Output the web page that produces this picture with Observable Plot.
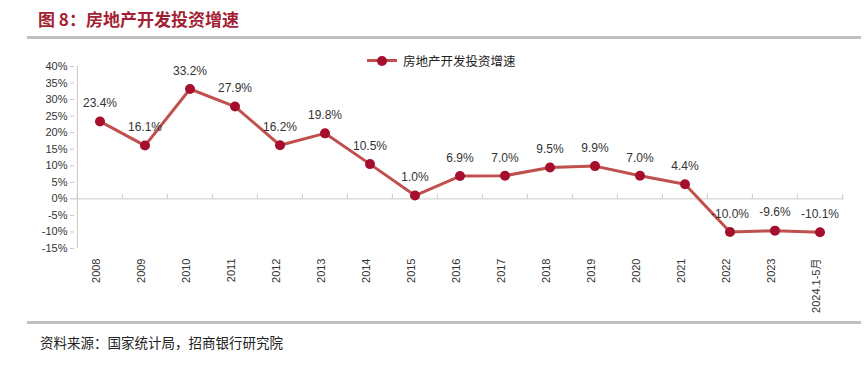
<!DOCTYPE html>
<html><head><meta charset="utf-8">
<script src="https://cdn.jsdelivr.net/npm/d3@7"></script>
<script src="https://cdn.jsdelivr.net/npm/@observablehq/plot@0.6"></script>
<style>
body{margin:0;background:#fff;}
#wrap{position:relative;width:868px;height:369px;overflow:hidden;font-family:"Liberation Sans",Arial,"Noto Sans CJK SC",sans-serif;}
#title{position:absolute;left:38px;top:6px;font-family:"Noto Sans CJK SC",sans-serif;font-weight:bold;font-size:17px;color:#A31F34;}
.hr{position:absolute;left:27px;width:834px;height:3px;background:#bfbfbf;}
#legend{position:absolute;left:367px;top:51px;font-family:"Noto Sans CJK SC",serif;font-size:12.5px;color:#222;display:flex;align-items:center;}
#legend .ln{position:relative;width:30px;height:3px;background:#C0504D;margin-right:6px;}
#legend .dt{position:absolute;left:10px;top:-3.5px;width:10px;height:10px;border-radius:5px;background:#A50F2D;}
#source{position:absolute;left:40px;top:332px;font-family:"Noto Sans CJK SC",serif;font-size:13.5px;color:#222;}
#chart{position:absolute;left:0;top:40px;}
</style></head>
<body><div id="wrap">
<div id="title">图 8：房地产开发投资增速</div>
<div class="hr" style="top:36px"></div>
<div id="chart"></div>
<div id="legend"><span class="ln"><span class="dt"></span></span><span>房地产开发投资增速</span></div>
<div class="hr" style="top:321px"></div>
<div id="source">资料来源：国家统计局，招商银行研究院</div>
</div>
<script>
const categories = ["2008","2009","2010","2011","2012","2013","2014","2015","2016","2017","2018","2019","2020","2021","2022","2023","2024.1-5月"];
const values = [23.4,16.1,33.2,27.9,16.2,19.8,10.5,1.0,6.9,7.0,9.5,9.9,7.0,4.4,-10.0,-9.6,-10.1];
const yTicks = [-15,-10,-5,0,5,10,15,20,25,30,35,40];

const data = categories.map((c,i)=>({cat:c, v:values[i]}));
const W = 868, H = 283, ML = 74, MR = 24, MT = 26, MB = 75;
const step = (W - ML - MR) / categories.length;
const lineColor = "#C0504D", dotColor = "#A50F2D", axisColor = "#c8c8c8";

const chart = Plot.plot({
  width: W, height: H,
  marginLeft: ML, marginRight: MR, marginTop: MT, marginBottom: MB,
  style: {fontFamily: '"Liberation Sans", Arial, "Noto Sans CJK SC", sans-serif', fontSize: "11px", color: "#333", background: "transparent"},
  x: {type: "band", domain: categories, padding: 0, axis: null},
  y: {domain: [-15, 40], axis: null},
  marks: [
    Plot.axisY(yTicks, {label: null, tickFormat: d => d + "%", tickSize: 4, tickPadding: 3, stroke: axisColor, fill: "#333", fontSize: 11}),
    Plot.ruleX([categories[0]], {x: d => d, dx: -step/2, y1: -15, y2: 40, stroke: axisColor}),
    Plot.ruleY([0], {stroke: axisColor, strokeWidth: 1}),
    Plot.ruleX(categories, {x: d => d, dx: -step/2, y1: 0, y2: 1.3, stroke: axisColor}),
    Plot.ruleX([categories[categories.length-1]], {x: d => d, dx: step/2, y1: 0, y2: 1.3, stroke: axisColor}),
    Plot.line(data, {x: "cat", y: "v", stroke: lineColor, strokeWidth: 3}),
    Plot.dot(data, {x: "cat", y: "v", r: 5, fill: dotColor, stroke: "none"}),
    Plot.text(data, {x: "cat", y: "v", text: d => d.v.toFixed(1) + "%", dy: -18, fontSize: 12, fill: "#333"}),
    Plot.text(categories, {x: d => d, frameAnchor: "bottom", dy: 10, rotate: -90, textAnchor: "end", fontSize: 11, fill: "#333"})
  ]
});
document.getElementById("chart").appendChild(chart);
</script>
</body></html>
